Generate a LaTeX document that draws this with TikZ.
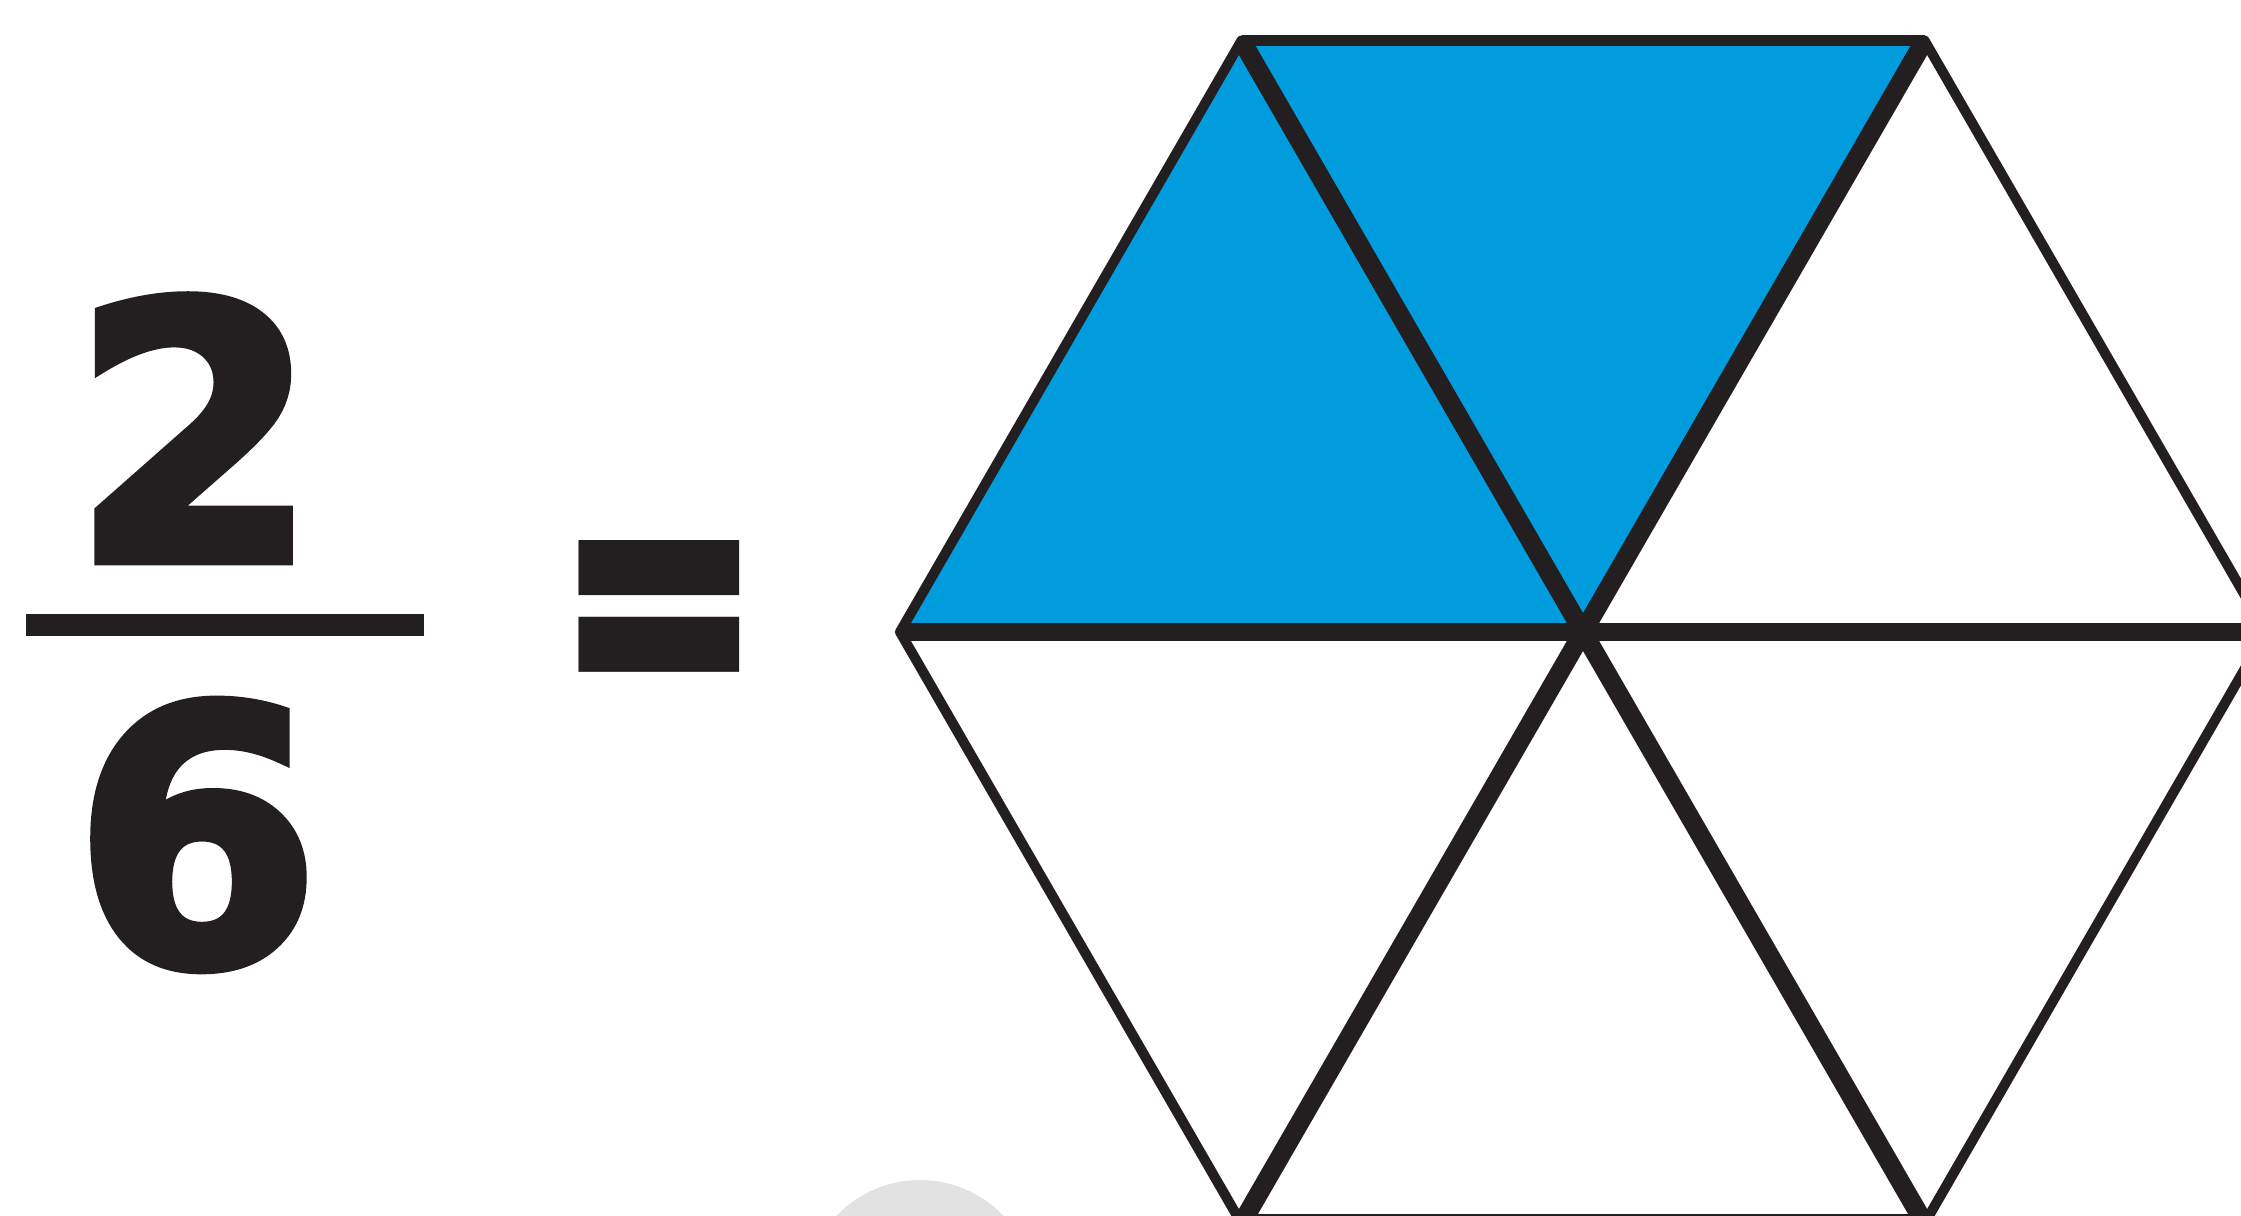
\documentclass[tikz,border=0pt]{standalone}
\usepackage{fontspec}
\newfontfamily\numfont{DejaVu Sans}
\newfontfamily\eqfont{Poppins}[UprightFont=* Black]
\definecolor{ink}{RGB}{35,31,32}
\definecolor{part}{RGB}{0,156,222}
\definecolor{wmark}{RGB}{226,226,226}
\newcommand{\heavy}[1]{\special{pdf:literal direct 2 Tr 3 w}#1\special{pdf:literal direct 0 Tr}}
\tikzset{
  digit/.style={inner sep=0pt,anchor=base,text=ink,font=\numfont\bfseries\fontsize{101}{101}\selectfont},
  eqsign/.style={inner sep=0pt,text=ink,font=\eqfont\fontsize{78}{78}\selectfont},
  fbar/.style={draw=ink,line width=6pt},
  rim/.style={draw=ink,line width=2.85pt,line join=round},
  spoke/.style={draw=ink,line width=5.4pt},
}

\begin{document}
\begin{tikzpicture}
  \useasboundingbox (0,0) rectangle (22.41,12.15);
  \clip (0,0) rectangle (22.41,12.15);
  % fraction 2/6
  \node[digit] (num) at (1.95,6.55) {\heavy{2}};
  \node[digit] (den) at (1.97,2.51) {\heavy{6}};
  \coordinate (barl) at (0.26,5.90);
  \coordinate (barr) at (4.24,5.90);
  \draw[fbar] (barl) -- (barr);
  \node[eqsign] (eq) at (6.59,5.95) {=};
  % faint mark under the hexagon
  \fill[wmark] (9.20,-0.80) circle (1.15);
  % hexagon cut in six
  \coordinate (c) at (15.83,5.83);
  \foreach \i in {0,...,5} \path (c) ++(\i*60:6.83) coordinate (v\i);
  \fill[part] (v3) -- (v2) -- (v1) -- (c) -- cycle;
  \draw[rim] (v0) -- (v1) -- (v2) -- (v3) -- (v4) -- (v5) -- cycle;
  \draw[rim,line width=3.2pt] (v2) -- (v1);
  \draw[spoke] (v3) -- (v0);
  \draw[spoke] (v2) -- (v5);
  \draw[spoke] (v1) -- (v4);
  \draw[spoke] (v4) -- (v5);
\end{tikzpicture}
\end{document}
